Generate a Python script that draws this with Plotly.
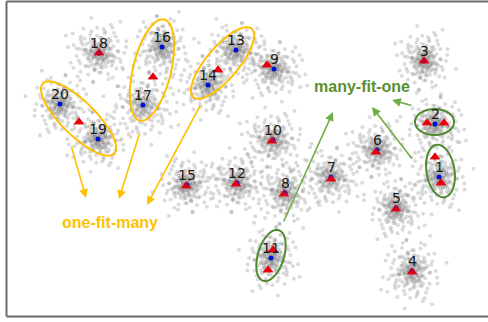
import numpy as np
import plotly.graph_objects as go

# ---- cluster data (embedding coordinates) ----
cluster_ids = ["1", "2", "3", "4", "5", "6", "7", "8", "9", "10",
               "11", "12", "13", "14", "15", "16", "17", "18", "19", "20"]
centroid_x = [439, 435, 424, 412, 396, 377, 331, 285, 274, 273,
              271, 237, 236, 208, 187, 162, 143, 99, 98, 60]
centroid_y = [177, 124, 61, 271, 208, 150, 177, 193, 69, 140,
              258, 183, 50, 85, 185, 47, 105, 53, 139, 104]

# cloud spread per cluster (x, y); sign flips vary the cloud shape
spread_x = [14, -14, 13, 14, -13, 14, -15, 14, -15, 15,
            -13, 14, -15, 14, -14, 13, -16, 15, 14, -14]
spread_y = [16, 14, -15, 16, 15, -14, 15, -16, 14, -14,
            16, -15, 14, 15, -14, 16, 17, -15, 14, 15]

# prototype positions
proto_x = [99, 153, 79, 218, 267, 424, 427, 444, 435, 441, 376, 272, 331,
           186, 236, 284, 396, 412, 273, 268]
proto_y = [53, 77, 122, 70, 65, 61, 123, 123, 157, 183, 152, 141, 179,
           186, 184, 194, 209, 272, 250, 270]

# unit offsets used to lay out each cluster's sample cloud
cloud_dx = [0.05, -0.2, 0.3, -0.35, 0.15, -0.1, 0.5, -0.55, 0.25, -0.4,
            0.65, -0.7, 0.1, -0.15, 0.8, -0.85, 0.45, -0.5, 0.6, -0.65,
            0.95, -1.0, 0.2, -0.3, 1.1, -1.1, 0.7, -0.8, 0.85, -0.95,
            1.3, -1.35, 0.4, 0.0, 1.25, -1.2, 1.45, -1.5, 0.6, -0.5,
            0.0, 0.2, -0.3, 0.4, -0.2, 0.35, 1.8, -1.7, 0.9, -0.4,
            -0.05, 0.55, -0.6, 0.1, 1.0, -1.25, 0.3, -0.9, 1.6, -0.15]
cloud_dy = [-0.1, 0.15, 0.05, -0.25, 0.4, -0.45, -0.2, 0.1, -0.55, 0.5,
            0.3, -0.35, 0.7, -0.75, -0.05, 0.2, 0.65, -0.7, -0.6, 0.7,
            0.45, -0.1, 1.0, -1.05, -0.3, 0.55, 0.95, -0.9, -0.85, 0.95,
            0.1, -0.5, 1.3, -1.3, 0.8, 1.1, -0.6, 0.3, -1.4, 1.45,
            0.2, -0.3, 0.0, 0.25, 0.35, -0.4, 0.4, -1.0, 1.7, -1.9,
            0.6, 0.9, -0.15, -0.95, 1.35, -0.7, 1.6, 0.25, -1.1, 1.15]

# annotation groups: ellipse (cx, cy, semi-major, semi-minor, angle deg)
yellow_ellipses = [(78.5, 118.5, 50, 17, 44.6),
                   (152, 70, 52, 19, -76.5),
                   (222.5, 63, 45, 16, -49.6)]
green_ellipses = [(434.5, 122, 19.5, 13, 0),
                  (440.5, 171, 26.5, 14, 81),
                  (271, 255.5, 26.5, 13, -73)]

# arrows: (tail x, tail y, head x, head y)
yellow_arrows = [(71, 145, 86, 198), (140, 132, 119, 199), (201, 104, 147, 205)]
green_arrows = [(283, 223, 333, 112), (413, 160, 372, 107), (413, 106, 392, 100)]

YELLOW = "#FFC000"
GREEN_LINE = "#4E8A2C"
GREEN_ARROW = "#70AD47"
GREEN_TEXT = "#5A8F30"

fig = go.Figure()

# gray sample clouds: three copies of the offset layout per cluster
# (core, main body, loose halo), each turned a quarter so they interleave
dx = np.array(cloud_dx)
dy = np.array(cloud_dy)
px, py = [], []
for cx, cy, sx, sy in zip(centroid_x, centroid_y, spread_x, spread_y):
    px.extend(cx + sx * dx)
    py.extend(cy + sy * dy)
    px.extend(cx + 0.55 * sx * dy)
    py.extend(cy - 0.55 * sy * dx)
    px.extend(cx - 1.3 * sx * dy)
    py.extend(cy + 1.3 * sy * dx)

fig.add_trace(go.Scatter(
    x=px, y=py, mode="markers",
    marker=dict(symbol="circle", size=4, color="rgba(115,115,115,0.26)",
                line=dict(width=0)),
    hoverinfo="skip", showlegend=False))

# prototypes and centroids
fig.add_trace(go.Scatter(
    x=proto_x, y=proto_y, mode="markers",
    marker=dict(symbol="triangle-up", size=9, color="#E8000B", line=dict(width=0)),
    showlegend=False))
fig.add_trace(go.Scatter(
    x=centroid_x, y=centroid_y, mode="markers",
    marker=dict(symbol="circle", size=5, color="#0010D0", line=dict(width=0)),
    showlegend=False))
# keep prototypes drawn over centroids where they overlap
fig.add_trace(go.Scatter(
    x=proto_x, y=proto_y, mode="markers",
    marker=dict(symbol="triangle-up", size=9, color="rgba(232,0,11,0.85)", line=dict(width=0)),
    showlegend=False))

# cluster id labels
for cid, cx, cy in zip(cluster_ids, centroid_x, centroid_y):
    fig.add_annotation(x=cx, y=cy, text=cid, showarrow=False, yshift=10,
                       font=dict(family="DejaVu Sans", size=14, color="#1a1a1a"))


def ellipse_path(cx, cy, a, b, ang):
    t = np.linspace(0, 2 * np.pi, 73)
    th = np.deg2rad(ang)
    ex = cx + a * np.cos(t) * np.cos(th) - b * np.sin(t) * np.sin(th)
    ey = cy + a * np.cos(t) * np.sin(th) + b * np.sin(t) * np.cos(th)
    pts = " L ".join(f"{u:.2f},{v:.2f}" for u, v in zip(ex, ey))
    return "M " + pts + " Z"


for e in yellow_ellipses:
    fig.add_shape(type="path", path=ellipse_path(*e), xref="x", yref="y",
                  line=dict(color=YELLOW, width=2))
for e in green_ellipses:
    fig.add_shape(type="path", path=ellipse_path(*e), xref="x", yref="y",
                  line=dict(color=GREEN_LINE, width=2))

for (x0, y0, x1, y1) in yellow_arrows:
    fig.add_annotation(x=x1, y=y1, ax=x0, ay=y0, xref="x", yref="y",
                       axref="x", ayref="y", text="", showarrow=True,
                       arrowhead=2, arrowsize=1.1, arrowwidth=1.6, arrowcolor=YELLOW)
for (x0, y0, x1, y1) in green_arrows:
    fig.add_annotation(x=x1, y=y1, ax=x0, ay=y0, xref="x", yref="y",
                       axref="x", ayref="y", text="", showarrow=True,
                       arrowhead=2, arrowsize=1.1, arrowwidth=1.6, arrowcolor=GREEN_ARROW)

fig.add_annotation(x=110, y=222, text="<b>one-fit-many</b>", showarrow=False,
                   font=dict(family="Liberation Sans", size=16, color=YELLOW))
fig.add_annotation(x=362, y=86, text="<b>many-fit-one</b>", showarrow=False,
                   font=dict(family="Liberation Sans", size=16, color=GREEN_TEXT))

# frame (left, top, bottom edges)
FRAME = "#6a6a6a"
fig.add_shape(type="line", x0=6.5, x1=6.5, y0=1.5, y1=316.5, xref="x", yref="y",
              line=dict(color=FRAME, width=2))
fig.add_shape(type="line", x0=6.5, x1=490, y0=1.5, y1=1.5, xref="x", yref="y",
              line=dict(color=FRAME, width=2))
fig.add_shape(type="line", x0=6.5, x1=490, y0=316.5, y1=316.5, xref="x", yref="y",
              line=dict(color=FRAME, width=2))

fig.update_layout(
    width=488, height=322,
    margin=dict(l=0, r=0, t=0, b=0),
    paper_bgcolor="white", plot_bgcolor="white",
    xaxis=dict(range=[0, 488], visible=False, fixedrange=True),
    yaxis=dict(range=[322, 0], visible=False, fixedrange=True),
    showlegend=False,
)

fig.write_html("out.html")
